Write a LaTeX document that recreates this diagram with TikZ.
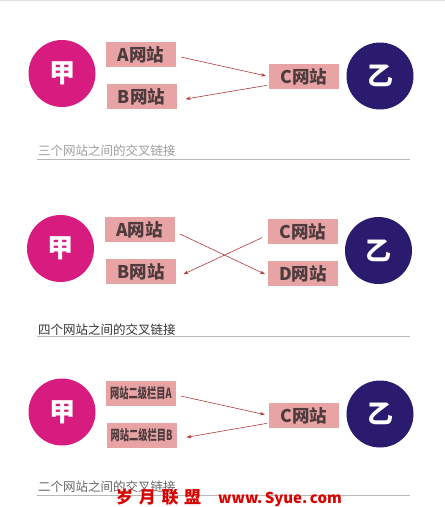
\documentclass[tikz,border=0pt]{standalone}
\usepackage{fontspec}
\newfontfamily\cjk{Noto Sans CJK SC}
\usetikzlibrary{arrows.meta}
\definecolor{jia}{HTML}{D81B7E}
\definecolor{yi}{HTML}{2A1B6E}
\definecolor{boxpink}{HTML}{E8A3A5}
\definecolor{boxtext}{HTML}{4D3B3D}
\definecolor{arrred}{HTML}{B03A3A}
\tikzset{
  person/.style={circle, minimum size=67pt, inner sep=0pt, text=white, font=\cjk\bfseries\fontsize{26}{26}\selectfont},
  site/.style={fill=boxpink, minimum width=70pt, minimum height=25pt, inner sep=0pt, text=boxtext, font=\cjk\bfseries\fontsize{17.5}{18}\selectfont},
  subsite/.style={site, font=\cjk\bfseries\fontsize{14}{14}\selectfont},
  arr/.style={draw=arrred, line width=0.6pt, -{Stealth[length=5pt,width=3.5pt]}},
  caption/.style={anchor=west, inner sep=0pt, font=\cjk\fontsize{12.5}{13}\selectfont},
  rule/.style={draw=black!28, line width=0.8pt}
}
\begin{document}
\begin{tikzpicture}[x=1pt,y=-1pt]
\useasboundingbox[fill=white] (0,0) rectangle (445,507);
\draw[black!12, line width=1pt] (0,0.5) -- (445,0.5);
% ---------- section 1 ----------
\node[person, fill=jia] (j1) at (62,73.5) {甲};
\node[person, fill=yi]  (y1) at (380,76) {乙};
\node[site] (a1) at (141,54.5) {A网站};
\node[site] (b1) at (141.5,96.5) {B网站};
\node[site] (c1) at (304,76.5) {C网站};
\draw[arr, shorten <=5pt, shorten >=3pt] ([yshift=-1.5pt]a1.east) -- (c1.west);
\draw[arr, shorten <=2pt, shorten >=9pt] ([yshift=-8.5pt]c1.west) -- ([yshift=-4pt]b1.east);
\node[caption, text=black!38] (t1) at (38,151) {三个网站之间的交叉链接};
\coordinate (l1a) at (37,159.5);
\coordinate (l1b) at (410,159.5);
\draw[rule] (l1a) -- (l1b);
% ---------- section 2 ----------
\node[person, fill=jia] (j2) at (60.5,248.5) {甲};
\node[person, fill=yi]  (y2) at (378.5,250.5) {乙};
\node[site] (a2) at (139.5,229.5) {A网站};
\node[site] (b2) at (141,271.5) {B网站};
\node[site] (c2) at (303,231.5) {C网站};
\node[site] (d2) at (303,273.5) {D网站};
\draw[arr, shorten <=6pt, shorten >=3pt] ([yshift=-2pt]a2.east) -- ([yshift=-2pt]d2.west);
\draw[arr, shorten <=6pt, shorten >=8pt] ([yshift=-3.5pt]c2.west) -- ([yshift=-6pt]b2.east);
\node[caption, text=black!80] (t2) at (38,330) {四个网站之间的交叉链接};
\coordinate (l2a) at (37,336.5);
\coordinate (l2b) at (410,336.5);
\draw[rule] (l2a) -- (l2b);
% ---------- section 3 ----------
\node[person, fill=jia] (j3) at (62,412) {甲};
\node[person, fill=yi]  (y3) at (380,414) {乙};
\node[subsite] (a3) at (141,393) {\scalebox{0.66}[1]{网站二级栏目A}};
\node[subsite] (b3) at (141.5,435) {\scalebox{0.66}[1]{网站二级栏目B}};
\node[site] (c3) at (304,415.5) {C网站};
\draw[arr, shorten <=5pt, shorten >=4pt] ([yshift=-2pt]a3.east) -- (c3.west);
\draw[arr, shorten <=2pt, shorten >=10pt] ([yshift=-7.5pt]c3.west) -- ([yshift=-4pt]b3.east);
\node[caption, text=black!60] (t3) at (38,487) {二个网站之间的交叉链接};
\coordinate (l3a) at (37,495.5);
\coordinate (l3b) at (410,495.5);
\draw[rule] (l3a) -- (l3b);
\node[anchor=west, inner sep=0pt, text=red!85!black, font=\cjk\bfseries\fontsize{17}{17}\selectfont] (wm) at (116,498) {岁\,\,月\,\,联\,\,盟\quad{\fontsize{15}{15}\selectfont www.\,Syue.\,com}};
\end{tikzpicture}
\end{document}
